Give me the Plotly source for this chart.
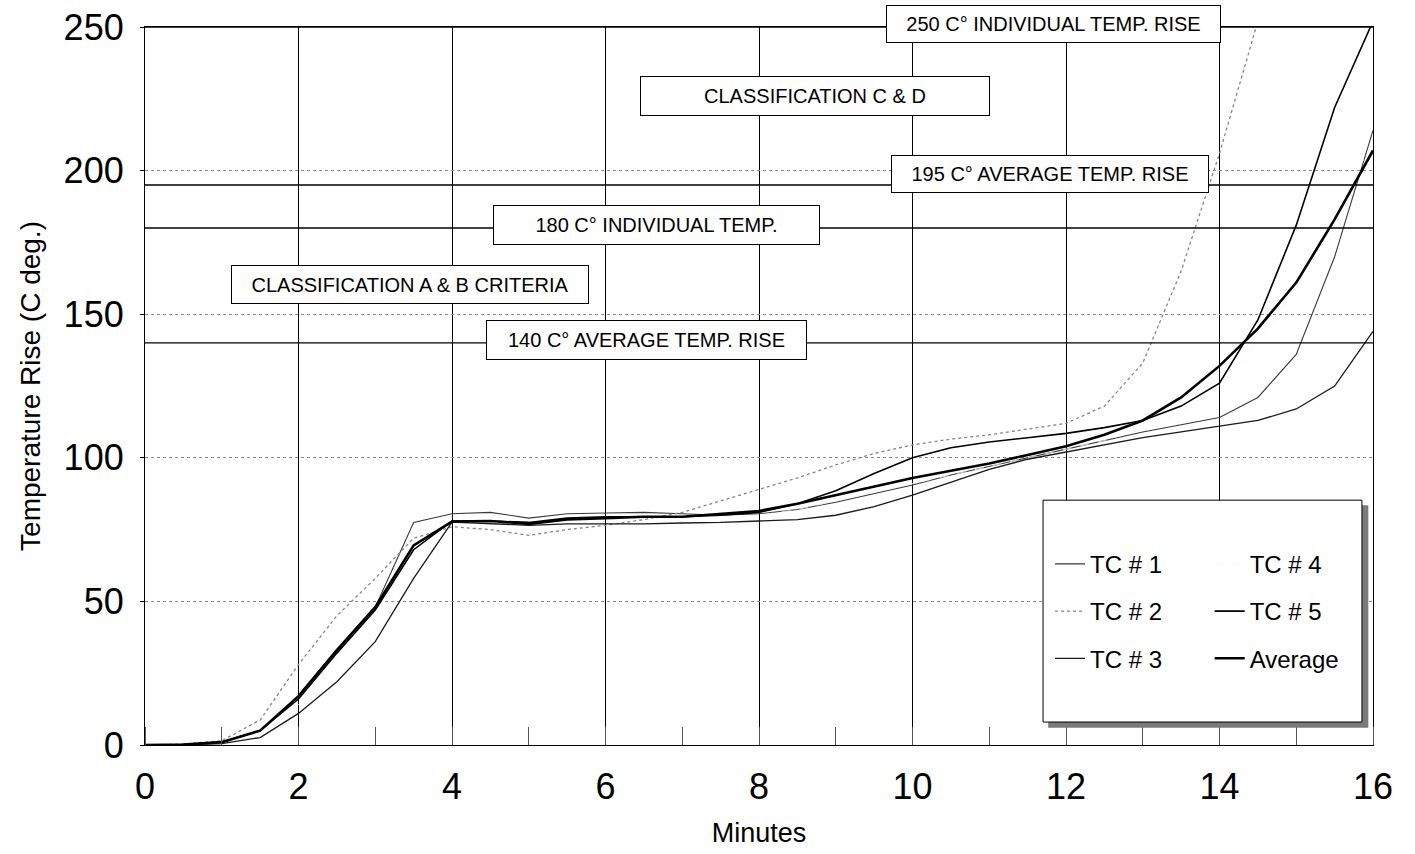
import plotly.graph_objects as go

# ---------------- data ----------------
minutes = [0, 0.5, 1, 1.5, 2, 2.5, 3, 3.5, 4, 4.5, 5, 5.5, 6, 6.5, 7, 7.5, 8,
           8.5, 9, 9.5, 10, 10.5, 11, 11.5, 12, 12.5, 13, 13.5, 14, 14.5, 15, 15.5, 16]

tc1 = [0, 0.2, 1, 5, 17, 33, 48, 77.5, 80.5, 81, 79, 80.5, 80.8, 81, 80.5, 80, 80.5,
       82, 84.5, 87.5, 90.5, 94, 97, 100, 103, 106, 109, 111.5, 114, 121, 136, 170, 214]
tc2 = [0, 0.3, 1.5, 8.7, 28, 45, 58, 72, 76, 75, 73, 75, 76.5, 78.5, 81, 85, 89,
       93, 97.5, 101.5, 104.5, 106.5, 108, 110, 112, 118, 133, 165, 206, 252, None, None, None]
tc3 = [0, 0, 0.5, 2.6, 11, 22, 36, 58, 77.6, 77, 76.5, 77, 77, 77, 77.3, 77.5, 78,
       78.5, 80, 83, 87, 91.5, 96, 99.5, 102, 104.5, 107, 109, 111, 113, 117, 125, 144]
tc4 = [0, 0.2, 0.8, 4, 14, 30, 46, 70, 78, 78.5, 77, 78.5, 79, 79, 79, 79.5, 80,
       82, 85, 88, 91, 94, 97, 100, 103, 106, 110, 116, 125, 140, 160, 185, 210]
tc5 = [0, 0.2, 1, 5, 16, 32, 47, 68, 78, 78, 77.5, 79, 79.5, 79.5, 79.5, 80, 81,
       84, 88.5, 94.5, 100, 103.5, 105.5, 107, 108.5, 110.5, 113, 118, 126, 148, 181, 222, 252]
average = [0, 0.2, 1, 5, 17, 33, 48, 69.5, 77.8, 78, 77, 78.5, 79, 79.5, 79.5, 80.5, 81.5,
           84, 87, 90, 93, 95.5, 98, 101, 104, 108, 113, 121, 132, 145, 161, 183, 207]

series_names = ["TC # 1", "TC # 2", "TC # 3", "TC # 4", "TC # 5", "Average"]
criteria_levels = [140, 180, 195, 250]
criteria_labels = ["250 C° INDIVIDUAL TEMP. RISE", "CLASSIFICATION C & D",
                   "195 C° AVERAGE TEMP. RISE", "180 C° INDIVIDUAL TEMP.",
                   "CLASSIFICATION A & B CRITERIA", "140 C° AVERAGE TEMP. RISE"]
x_ticks = [0, 2, 4, 6, 8, 10, 12, 14, 16]
y_ticks = [0, 50, 100, 150, 200, 250]

FONT = "Liberation Sans, Arial, Helvetica, sans-serif"

fig = go.Figure()

styles = [
    dict(color="#3a3a3a", width=1.1, dash="solid"),
    dict(color="#858585", width=1.3, dash="dot"),
    dict(color="#1a1a1a", width=1.3, dash="solid"),
    dict(color="#f4f4f4", width=0.8, dash="dash"),
    dict(color="#000000", width=1.6, dash="solid"),
    dict(color="#000000", width=2.6, dash="solid"),
]
legends = ["legend", "legend", "legend", "legend2", "legend2", "legend2"]
values = [tc1, tc2, tc3, tc4, tc5, average]

for name, ys, st, lg in zip(series_names, values, styles, legends):
    fig.add_trace(go.Scatter(
        x=minutes, y=ys, name=name, mode="lines", line=st,
        legend=lg, legendgroup=name, connectgaps=False, hoverinfo="x+y+name"))

# legend frame with shadow
fig.add_shape(type="rect", xref="paper", yref="paper",
              x0=0.7355, x1=0.9962, y0=0.024, y1=0.334,
              fillcolor="#7a7a7a", line=dict(width=0), layer="above")
fig.add_shape(type="rect", xref="paper", yref="paper",
              x0=0.7313, x1=0.991, y0=0.032, y1=0.341,
              fillcolor="white", line=dict(color="black", width=1), layer="above")

# criteria lines
for lvl in criteria_levels:
    fig.add_shape(type="line", xref="paper", yref="y", x0=0, x1=1, y0=lvl, y1=lvl,
                  line=dict(color="black", width=1.4), layer="above")

# label boxes: (x, y, width, height, yshift)
label_pos = [(11.84, 249, 333, 36, 6), (8.73, 226, 348, 38, 0), (11.79, 198.8, 316, 36, 0),
             (6.67, 181, 325, 38, 0), (3.45, 160.5, 356, 37, 0), (6.54, 141, 319, 38, 0)]
for txt, (lx, ly, w, h, ys) in zip(criteria_labels, label_pos):
    fig.add_annotation(x=lx, y=ly, xref="x", yref="y", text=txt, showarrow=False,
                       font=dict(family=FONT, size=20, color="black"),
                       bgcolor="white", bordercolor="black", borderwidth=1,
                       borderpad=0, width=w, height=h, align="center", valign="middle",
                       yshift=ys)

fig.update_xaxes(range=[0, 16], tickvals=x_ticks, ticks="", showgrid=True,
                 gridcolor="black", gridwidth=1, showline=True, linecolor="black",
                 linewidth=1.2, mirror=True, zeroline=False,
                 tickfont=dict(family=FONT, size=36, color="black"),
                 ticklabelstandoff=10,
                 minor=dict(dtick=1, ticks="inside", ticklen=18, tickcolor="#555",
                            tickwidth=1, showgrid=False),
                 title=dict(text="Minutes", font=dict(family=FONT, size=27, color="black"),
                            standoff=16),
                 automargin=False)
fig.update_yaxes(range=[0, 250], tickvals=y_ticks, ticks="outside", ticklen=4,
                 tickcolor="black", showgrid=True, gridcolor="#8a8a8a", griddash="dot",
                 gridwidth=1, showline=True, linecolor="black", linewidth=1.2,
                 mirror=True, zeroline=False,
                 tickfont=dict(family=FONT, size=36, color="black"),
                 ticklabelstandoff=9,
                 title=dict(text="Temperature Rise (C deg.)",
                            font=dict(family=FONT, size=28, color="black"), standoff=14),
                 automargin=False)

legend_common = dict(xanchor="left", yanchor="top", bgcolor="rgba(0,0,0,0)",
                     borderwidth=0, font=dict(family=FONT, size=24, color="black"),
                     tracegroupgap=13, itemwidth=30, orientation="v")
fig.update_layout(
    width=1415, height=854,
    margin=dict(l=145, r=42, t=27, b=109),
    plot_bgcolor="white", paper_bgcolor="white",
    font=dict(family=FONT, color="black"),
    showlegend=True,
    legend=dict(x=0.737, y=0.283, **legend_common),
    legend2=dict(x=0.867, y=0.283, **legend_common),
)

fig.write_html("out.html", config={"displayModeBar": False},
               post_script="document.body.style.margin='0';")
